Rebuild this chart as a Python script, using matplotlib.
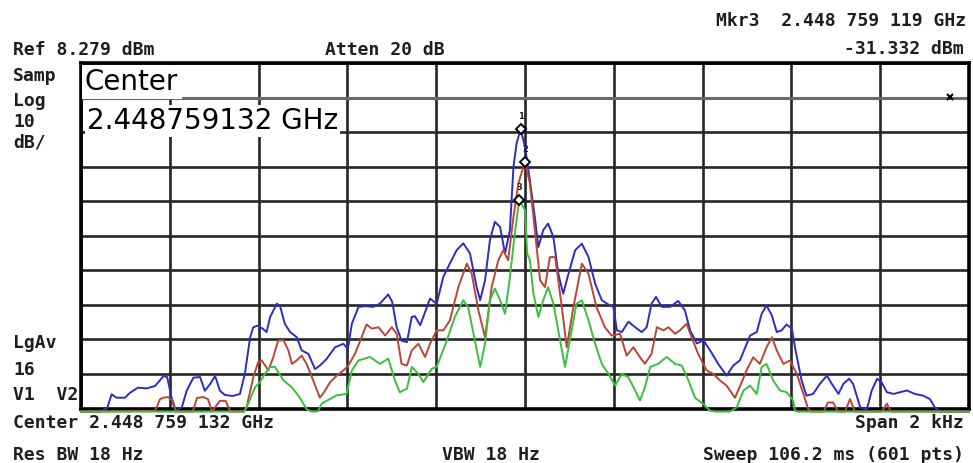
import numpy as np
import matplotlib
matplotlib.use("Agg")
import matplotlib.pyplot as plt

# analyzer settings
ref_level = 8.279          # dBm, top of screen
db_per_div = 10
span_hz = 2000
display_line = -1.721      # dBm

# frequency offset from centre (Hz) and level (dBm); values below the screen are off-scale
blue_hz = [-1000, -957, -941, -931, -920, -901, -890, -872, -852, -833, -814, -806, -796, -788,
           -773, -762, -747, -732, -721, -709, -698, -687, -676, -658, -642, -631, -619, -612,
           -601, -589, -582, -574, -559, -552, -541, -529, -514, -503, -488, -473, -462, -447,
           -428, -409, -399, -390, -375, -360, -342, -327, -308, -299, -289, -278, -266, -255,
           -248, -236, -225, -214, -199, -184, -169, -154, -139, -124, -109, -101, -90, -79,
           -68, -56, -45, -34, -26, -19, -10, 0, 11, 23, 30, 41, 52, 64, 75, 86, 98, 113, 128,
           143, 158, 173, 191, 199, 207, 218, 233, 248, 263, 274, 285, 295, 308, 327, 345, 360,
           372, 387, 402, 417, 435, 454, 469, 484, 496, 507, 522, 533, 544, 556, 567, 578, 589,
           601, 608, 623, 634, 649, 664, 680, 691, 706, 717, 730, 739, 747, 755, 770, 781, 793,
           803, 815, 830, 845, 860, 878, 897, 912, 923, 935, 1000]
blue_dbm = [-95, -95, -91.6, -87.6, -88.6, -88.6, -87.2, -85.7, -85.9, -85.2, -82.3, -82.6, -88.6,
            -92.4, -91.4, -86.6, -82.8, -82.6, -86.6, -84.6, -82.3, -86.6, -87.8, -88.1, -87.5,
            -81.7, -71.1, -68.2, -67.7, -68.8, -69.6, -65.2, -61.4, -61.9, -67.2, -69.6, -71.1,
            -74.9, -75.9, -80.3, -79.3, -77.4, -74.0, -73.0, -74.5, -67.2, -62.3, -62.1, -62.3,
            -61.4, -58.7, -60.9, -68.2, -72.1, -72.5, -65.2, -65.0, -67.6, -63.8, -59.9, -61.4,
            -53.6, -49.7, -45.9, -43.9, -46.8, -56.5, -60.4, -54.6, -43.0, -37.7, -39.2, -46.9,
            -40.1, -21.8, -15.0, -10.9, -16.0, -25.6, -37.2, -45.0, -40.1, -38.2, -42.1, -52.7,
            -58.5, -52.7, -45.9, -44.0, -47.9, -55.6, -60.4, -61.9, -62.3, -69.1, -69.6, -66.6,
            -68.2, -69.6, -68.2, -61.4, -59.4, -62.3, -62.3, -60.6, -63.3, -69.1, -72.9, -72.0,
            -74.9, -78.8, -82.2, -79.3, -77.8, -74.0, -70.6, -69.6, -64.3, -61.9, -64.8, -69.6,
            -69.1, -67.4, -68.6, -74.0, -83.6, -88.0, -87.5, -84.6, -82.2, -84.6, -87.5, -84.6,
            -83.1, -84.6, -88.0, -91.4, -91.9, -86.5, -83.1, -84.1, -87.0, -87.5, -87.0, -86.5,
            -87.5, -88.0, -89.0, -91.4, -95, -95]

red_hz = [-1000, -833, -822, -814, -804, -793, -786, -748, -739, -725, -714, -705, -696, -687,
          -674, -664, -633, -627, -612, -601, -593, -578, -567, -556, -544, -533, -525, -514,
          -503, -492, -477, -462, -450, -439, -424, -409, -398, -383, -368, -357, -345, -330,
          -315, -300, -289, -278, -266, -255, -240, -225, -214, -199, -184, -169, -150, -131,
          -120, -105, -90, -75, -60, -49, -38, -26, -15, 0, 11, 23, 34, 45, 56, 68, 83, 94, 109,
          128, 143, 161, 180, 195, 214, 229, 244, 259, 270, 285, 297, 312, 323, 338, 349, 364,
          375, 390, 409, 424, 439, 454, 473, 488, 499, 514, 529, 544, 556, 567, 582, 597, 612,
          627, 638, 646, 673, 682, 694, 705, 721, 732, 743, 804, 815, 824, 1000]
red_dbm = [-95, -92.4, -89.0, -88.6, -88.4, -89.5, -95, -95, -88.7, -88.4, -89.0, -95, -91.0,
           -89.5, -89.5, -95, -95, -91.4, -82.7, -78.3, -77.8, -80.7, -76.9, -72.0, -72.0, -74.9,
           -78.8, -77.8, -76.4, -78.8, -83.6, -88.6, -86.5, -84.1, -82.2, -80.7, -79.3, -75.9,
           -71.1, -67.4, -68.6, -68.2, -70.6, -68.2, -70.1, -78.8, -79.3, -74.9, -73.0, -76.8,
           -73.0, -69.1, -69.1, -66.2, -56.5, -49.8, -52.7, -63.3, -71.1, -56.5, -48.8, -45.9,
           -48.8, -36.3, -26.6, -20.3, -26.6, -41.1, -54.6, -56.6, -47.9, -47.9, -62.4, -74.0,
           -62.4, -49.8, -52.7, -62.4, -68.2, -70.6, -70.1, -76.4, -74.0, -76.9, -78.8, -75.9,
           -68.2, -69.1, -68.2, -70.1, -69.1, -67.2, -71.1, -75.9, -80.7, -81.7, -83.6, -85.1,
           -88.6, -84.1, -80.7, -76.9, -78.8, -74.0, -71.1, -74.9, -78.8, -77.8, -81.7, -87.5,
           -91.9, -95, -95, -90.0, -90.0, -95, -95, -89.0, -95, -95, -90.3, -95, -95]

green_hz = [-1000, -633, -627, -608, -597, -586, -574, -563, -544, -525, -507, -492, -480, -466,
            -458, -424, -402, -390, -375, -349, -327, -308, -293, -282, -266, -255, -240, -229,
            -210, -199, -176, -158, -139, -128, -113, -101, -90, -79, -68, -56, -45, -34, -23,
            -13, 0, 5, 11, 19, 30, 41, 52, 64, 79, 90, 101, 116, 128, 143, 158, 173, 188, 203,
            218, 233, 248, 259, 270, 282, 300, 319, 338, 353, 368, 383, 402, 417, 430, 462, 477,
            492, 507, 522, 533, 544, 559, 574, 589, 604, 608, 615, 1000]
green_dbm = [-95, -95, -91.4, -85.6, -84.1, -81.7, -79.7, -79.7, -83.6, -85.6, -88.6, -91.9, -95,
             -92.5, -90.3, -87.9, -87.5, -80.7, -77.8, -76.8, -78.8, -77.3, -83.6, -87.0, -86.0,
             -79.7, -81.7, -84.1, -80.2, -79.7, -72.0, -65.2, -60.4, -62.4, -72.0, -79.7, -73.0,
             -60.4, -57.0, -60.4, -64.3, -53.7, -41.1, -31.332, -34.3, -46.9, -48.8, -58.5,
             -65.2, -60.4, -56.6, -61.4, -72.0, -79.7, -72.0, -61.4, -60.4, -66.2, -73.0, -78.8,
             -81.7, -85.1, -81.7, -82.7, -86.5, -89.4, -85.6, -79.7, -78.8, -76.8, -78.8, -79.3,
             -83.6, -88.6, -90.5, -92.4, -95, -95, -91.4, -86.5, -85.1, -87.5, -79.7, -78.8,
             -83.6, -86.5, -87.0, -89.4, -92.4, -95, -95]

# markers 1..3 (Hz offset, dBm)
marker_hz = [-10, 0, -13]
marker_dbm = [-10.9, -20.3, -31.332]
marker_names = ["1", "2", "3"]
x_marker_hz = 957

W, H = 973, 463
fig = plt.figure(figsize=(W / 100, H / 100), dpi=100)
fig.patch.set_facecolor("white")

# graticule: 10 x 10 divisions
left, right, top, bottom = 81, 969, 63, 408.5
ax = fig.add_axes([left / W, 1 - bottom / H, (right - left) / W, (bottom - top) / H])
bottom_db = ref_level - 10 * db_per_div
ax.set_xlim(-span_hz / 2, span_hz / 2)
ax.set_ylim(bottom_db, ref_level)
ax.set_xticks(np.linspace(-span_hz / 2, span_hz / 2, 11))
ax.set_yticks(np.linspace(bottom_db, ref_level, 11))
ax.tick_params(length=0, labelbottom=False, labelleft=False)
ax.grid(True, color="#262626", linewidth=1.9)
ax.set_axisbelow(True)
for s in ax.spines.values():
    s.set_linewidth(2.6)
    s.set_color("black")

ax.axhline(display_line, color="#6a6a6a", linewidth=2.2, zorder=1.5)
ax.plot([x_marker_hz], [display_line + 0.3], marker="x", ms=4, mew=1.5, color="black",
        zorder=5)

# off-screen values sit on the bottom edge, just below the frame
floor = bottom_db - 0.9
for hz, dbm, col in [(blue_hz, blue_dbm, "#2c2cc8"),
                     (red_hz, red_dbm, "#b94636"),
                     (green_hz, green_dbm, "#3cbf3c")]:
    ax.plot(hz, np.clip(dbm, floor, None), color=col, linewidth=1.4, clip_on=False, zorder=3)

ax.plot(marker_hz, marker_dbm, linestyle="none", marker="D", ms=5.5, mfc="white",
        mec="black", mew=1.4, zorder=6)
for hz, dbm, name in zip(marker_hz, marker_dbm, marker_names):
    ax.annotate(name, (hz, dbm), xytext=(0, 9), textcoords="offset points", ha="center",
                va="center", fontsize=6, fontweight="bold", color="#222222", zorder=6)


def px(x, y):
    return x / W, 1 - y / H


mono = dict(family="DejaVu Sans Mono", fontsize=13, fontweight="bold", color="#1e1e1e",
            va="center")
fig.text(*px(13, 50), "Ref 8.279 dBm", ha="left", **mono)
fig.text(*px(325, 50), "Atten 20 dB", ha="left", **mono)
fig.text(*px(966, 21), "Mkr3  2.448 759 119 GHz", ha="right", **mono)
fig.text(*px(964, 49), "-31.332 dBm", ha="right", **mono)
for y, s in [(76, "Samp"), (101, "Log"), (122, "10"), (143, "dB/"),
             (343, "LgAv"), (370, "16"), (395, "V1  V2")]:
    fig.text(*px(13, y), s, ha="left", **mono)
fig.text(*px(13, 423), "Center 2.448 759 132 GHz", ha="left", **mono)
fig.text(*px(964, 423), "Span 2 kHz", ha="right", **mono)
fig.text(*px(13, 455), "Res BW 18 Hz", ha="left", **mono)
fig.text(*px(491, 455), "VBW 18 Hz", ha="center", **mono)
fig.text(*px(964, 455), "Sweep 106.2 ms (601 pts)", ha="right", **mono)

big = dict(family="DejaVu Sans", fontsize=20, color="black", va="center", ha="left")
fig.text(*px(85, 82), "Center", bbox=dict(facecolor="white", edgecolor="none", pad=2.5), **big)
fig.text(*px(87, 121), "2.448759132 GHz",
         bbox=dict(facecolor="white", edgecolor="none", pad=1.5), **big)

fig.savefig("out.png", dpi=100, facecolor="white")
